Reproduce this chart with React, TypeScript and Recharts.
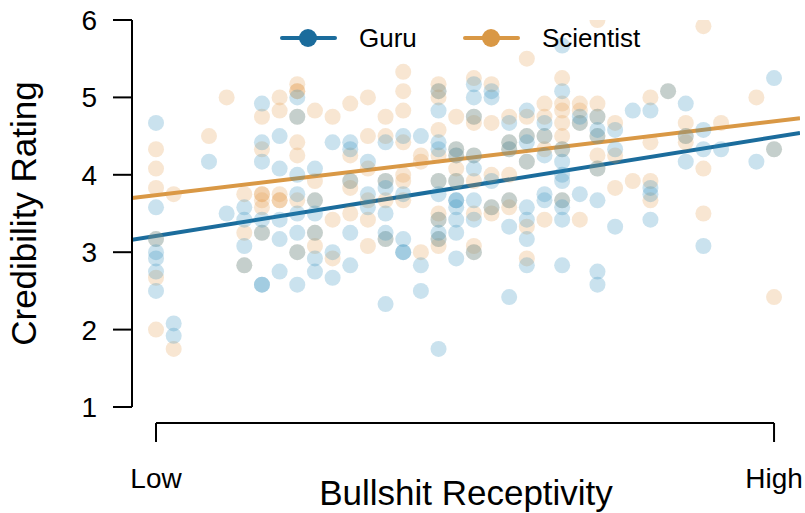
import {
  ComposedChart,
  Scatter,
  Line,
  XAxis,
  YAxis,
  Legend,
  ReferenceLine,
  Label,
} from "recharts";

// x = receptivity level (0 = Low ... 35 = High), y = credibility rating
const guruPoints: [number, number][] = [
  [0, 4.67], [0, 3.58], [0, 3.17], [0, 3.0], [0, 2.92], [0, 2.75], [0, 2.5],
  [1, 2.08], [1, 1.92],
  [3, 4.17],
  [4, 3.5],
  [5, 3.58], [5, 3.42], [5, 3.08], [5, 2.83],
  [6, 4.92], [6, 4.42], [6, 4.17], [6, 3.42], [6, 3.25], [6, 2.58], [6, 2.58],
  [7, 4.5], [7, 4.08], [7, 3.42], [7, 3.17], [7, 2.75],
  [8, 5.0], [8, 4.75], [8, 4.0], [8, 3.75], [8, 3.5], [8, 3.25], [8, 3.0], [8, 2.58],
  [9, 4.08], [9, 3.67], [9, 3.5], [9, 3.25], [9, 2.92], [9, 2.75],
  [10, 4.42], [10, 3.0], [10, 2.67],
  [11, 4.42], [11, 4.33], [11, 3.92], [11, 3.25], [11, 2.83],
  [12, 4.17], [12, 3.75], [12, 3.58],
  [13, 4.42], [13, 3.92], [13, 3.83], [13, 3.5], [13, 3.25], [13, 3.17], [13, 2.33],
  [14, 4.5], [14, 3.75], [14, 3.17], [14, 3.0], [14, 3.0],
  [15, 4.5], [15, 2.83], [15, 2.5],
  [16, 5.08], [16, 4.83], [16, 4.42], [16, 4.33], [16, 3.92], [16, 3.75], [16, 3.42], [16, 3.25], [16, 3.17], [16, 1.75],
  [17, 4.33], [17, 4.25], [17, 3.92], [17, 3.67], [17, 3.67], [17, 3.58], [17, 3.42], [17, 3.25], [17, 2.92],
  [18, 5.17], [18, 5.0], [18, 4.75], [18, 4.25], [18, 4.08], [18, 3.67], [18, 3.42], [18, 3.0],
  [19, 5.08], [19, 5.0], [19, 3.92], [19, 3.58],
  [20, 4.67], [20, 4.42], [20, 4.33], [20, 3.67], [20, 3.33], [20, 2.42],
  [21, 4.83], [21, 4.5], [21, 4.42], [21, 4.17], [21, 3.58], [21, 3.42], [21, 3.17], [21, 2.83],
  [22, 4.67], [22, 4.5], [22, 4.25], [22, 3.75], [22, 3.67],
  [23, 5.67], [23, 5.08], [23, 4.33], [23, 4.17], [23, 4.0], [23, 3.92], [23, 3.67], [23, 3.58], [23, 3.42], [23, 2.83],
  [24, 4.75], [24, 4.67], [24, 3.75],
  [25, 4.75], [25, 4.58], [25, 4.5], [25, 4.08], [25, 3.67], [25, 2.75], [25, 2.58],
  [26, 4.58], [26, 4.33], [26, 3.33],
  [27, 4.83],
  [28, 4.83], [28, 3.83], [28, 3.75], [28, 3.42],
  [29, 5.08],
  [30, 4.92], [30, 4.5], [30, 4.17],
  [31, 4.58], [31, 4.33], [31, 3.08],
  [32, 4.33],
  [34, 4.17],
  [35, 5.25], [35, 4.33],
];

const scientistPoints: [number, number][] = [
  [0, 4.33], [0, 4.08], [0, 3.83], [0, 3.17], [0, 2.67], [0, 2.0],
  [1, 3.75], [1, 1.75],
  [3, 4.5],
  [4, 5.0],
  [5, 3.75], [5, 3.25], [5, 2.83],
  [6, 4.75], [6, 4.33], [6, 3.75], [6, 3.75], [6, 3.67], [6, 3.58], [6, 3.25],
  [7, 5.0], [7, 4.83], [7, 3.75], [7, 3.67], [7, 3.67],
  [8, 5.17], [8, 5.08], [8, 5.08], [8, 4.75], [8, 4.42], [8, 4.25], [8, 3.67], [8, 3.0],
  [9, 4.83], [9, 3.92], [9, 3.67], [9, 3.25], [9, 3.08],
  [10, 4.75], [10, 3.42], [10, 2.92],
  [11, 4.92], [11, 4.25], [11, 3.92], [11, 3.83], [11, 3.5],
  [12, 5.0], [12, 4.5], [12, 4.08], [12, 3.67], [12, 3.42], [12, 3.08],
  [13, 4.75], [13, 4.5], [13, 3.92], [13, 3.67], [13, 3.17],
  [14, 5.33], [14, 5.08], [14, 4.83], [14, 4.42], [14, 4.0], [14, 3.92], [14, 3.67],
  [15, 4.25], [15, 4.17], [15, 3.0],
  [16, 5.17], [16, 5.08], [16, 5.0], [16, 4.58], [16, 4.25], [16, 3.92], [16, 3.5], [16, 3.42], [16, 3.17], [16, 3.08],
  [17, 4.75], [17, 4.33], [17, 4.25], [17, 4.08], [17, 3.92],
  [18, 5.25], [18, 4.75], [18, 4.67], [18, 4.25], [18, 3.92], [18, 3.5], [18, 3.08], [18, 3.0],
  [19, 5.17], [19, 4.67], [19, 4.0], [19, 3.58], [19, 3.5],
  [20, 4.75], [20, 4.42], [20, 4.33], [20, 4.0], [20, 3.67], [20, 3.58],
  [21, 5.5], [21, 4.75], [21, 4.5], [21, 4.17], [21, 3.33], [21, 2.92],
  [22, 4.92], [22, 4.75], [22, 4.5], [22, 4.33], [22, 3.42],
  [23, 5.25], [23, 4.92], [23, 4.83], [23, 4.67], [23, 4.5], [23, 4.33], [23, 3.67],
  [24, 4.92], [24, 4.83], [24, 4.67], [24, 3.42],
  [25, 6.0], [25, 4.92], [25, 4.75], [25, 4.5], [25, 4.25], [25, 4.08],
  [26, 4.67], [26, 4.25], [26, 3.83],
  [27, 3.92],
  [28, 5.0], [28, 4.42], [28, 3.92], [28, 3.67],
  [29, 5.08],
  [30, 4.67], [30, 4.5], [30, 4.42],
  [31, 5.92], [31, 4.08], [31, 3.5],
  [32, 4.67],
  [34, 5.0],
  [35, 4.33], [35, 2.42],
];

// fitted regression lines, read at the left and right edges of the plot
const guruFit: [number, number][] = [[-1.36, 3.16], [36.47, 4.54]];
const scientistFit: [number, number][] = [[-1.36, 3.7], [36.47, 4.73]];

const yTicks = [1, 2, 3, 4, 5, 6];
const xTicks = [0, 35];
const xTickLabels = ["Low", "High"];
const xDomain: [number, number] = [-1.36, 36.47];
const bracketY = 0.793;
const bracketTickY = 0.548;

const FONT = '"Liberation Sans", Arial, Helvetica, sans-serif';
const GURU = "#1b6c9c";
const SCIENTIST = "#d99845";
const GURU_DOT = "#2a8dbb";
const SCIENTIST_DOT = "#e39b4b";

const Y_AXIS_WIDTH = 132; // chart has no left margin, so the axis line sits here
const Y_TICK_LEN = 19;
const Y_TICK_GAP = 16;

const toXY = (pts: [number, number][]) => pts.map(([x, y]) => ({ x, y }));

const makeDot = (fill: string) => (props: any) =>
  <circle cx={props.cx} cy={props.cy} r={8} fill={fill} fillOpacity={0.25} />;

const YTick = (props: any) => {
  const { y, payload } = props;
  const axisX = Y_AXIS_WIDTH;
  return (
    <g>
      <line x1={axisX} x2={axisX - Y_TICK_LEN} y1={y} y2={y} stroke="#000" strokeWidth={2} />
      <text
        x={axisX - Y_TICK_LEN - Y_TICK_GAP}
        y={y}
        dy="0.355em"
        textAnchor="end"
        fontSize={28}
        fontFamily={FONT}
        fill="#000"
      >
        {payload.value}
      </text>
    </g>
  );
};

const legendItems = [
  { name: "Guru", color: GURU, x: 12 },
  { name: "Scientist", color: SCIENTIST, x: 195 },
];

const renderLegend = () => (
  <svg width={380} height={32} style={{ display: "block" }}>
    {legendItems.map((item) => (
      <g key={item.name}>
        <line x1={item.x} x2={item.x + 53} y1={15} y2={15} stroke={item.color} strokeWidth={4} strokeLinecap="round" />
        <circle cx={item.x + 26} cy={15} r={9} fill={item.color} />
        <text x={item.x + 77} y={24} fontSize={26} fontFamily={FONT} fill="#000">
          {item.name}
        </text>
      </g>
    ))}
  </svg>
);

export default function App() {
  return (
    <div style={{ position: "absolute", left: 0, top: 0, background: "#fff" }}>
      <ComposedChart
        width={805}
        height={513}
        margin={{ top: 20, right: 5, bottom: 0, left: 0 }}
        style={{ fontFamily: FONT }}
      >
        <XAxis
          type="number"
          dataKey="x"
          domain={xDomain}
          allowDataOverflow
          ticks={xTicks}
          tickFormatter={(v: number) => xTickLabels[xTicks.indexOf(v)] ?? ""}
          axisLine={false}
          tickLine={false}
          tickSize={6}
          tickMargin={55}
          height={106}
          tick={{ fontSize: 28, fill: "#000", fontFamily: FONT }}
          interval={0}
        >
          <Label
            value="Bullshit Receptivity"
            position="insideBottom"
            offset={8}
            style={{ fontSize: 35, fill: "#000", fontFamily: FONT }}
          />
        </XAxis>
        <YAxis
          type="number"
          dataKey="y"
          domain={[1, 6]}
          ticks={yTicks}
          interval={0}
          width={Y_AXIS_WIDTH}
          allowDataOverflow
          axisLine={{ stroke: "#000", strokeWidth: 2 }}
          tickLine={false}
          tick={YTick}
        >
          <Label
            value="Credibility Rating"
            angle={-90}
            position="center"
            dx={-42}
            style={{ fontSize: 35, fill: "#000", fontFamily: FONT, textAnchor: "middle" }}
          />
        </YAxis>

        <ReferenceLine
          segment={[{ x: xTicks[0], y: bracketY }, { x: xTicks[1], y: bracketY }]}
          stroke="#000"
          strokeWidth={2}
          ifOverflow="visible"
        />
        {xTicks.map((t) => (
          <ReferenceLine
            key={t}
            segment={[{ x: t, y: bracketY }, { x: t, y: bracketTickY }]}
            stroke="#000"
            strokeWidth={2}
            ifOverflow="visible"
          />
        ))}

        <Scatter
          name="Scientist"
          data={toXY(scientistPoints)}
          shape={makeDot(SCIENTIST_DOT)}
          isAnimationActive={false}
        />
        <Scatter
          name="Guru"
          data={toXY(guruPoints)}
          shape={makeDot(GURU_DOT)}
          isAnimationActive={false}
        />
        <Line
          data={toXY(scientistFit)}
          dataKey="y"
          stroke={SCIENTIST}
          strokeWidth={4}
          dot={false}
          activeDot={false}
          isAnimationActive={false}
          legendType="none"
        />
        <Line
          data={toXY(guruFit)}
          dataKey="y"
          stroke={GURU}
          strokeWidth={4}
          dot={false}
          activeDot={false}
          isAnimationActive={false}
          legendType="none"
        />
        <Legend
          layout="horizontal"
          verticalAlign="middle"
          align="center"
          content={renderLegend}
          wrapperStyle={{ top: 23, left: 270, width: 380, height: 32 }}
        />
      </ComposedChart>
    </div>
  );
}
